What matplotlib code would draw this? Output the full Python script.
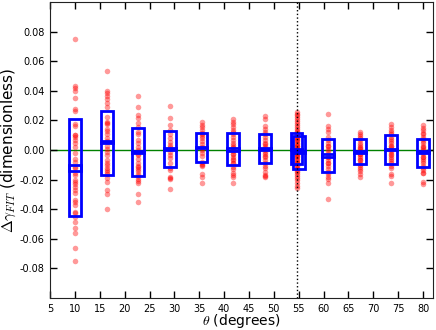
import numpy as np
import matplotlib
matplotlib.use('Agg')
import matplotlib.pyplot as plt
from matplotlib.patches import Rectangle
from matplotlib.ticker import FormatStrFormatter

plt.rcParams['mathtext.fontset'] = 'cm'

# scatter data, one list per angle
angles = [10, 16.36, 22.73, 29.09, 35.45, 41.82, 48.18, 54.6, 60.91, 67.27, 73.64, 80]
g1 = [0.0753, 0.0433, 0.0417, 0.0401, 0.035, 0.0277, 0.0264, 0.0176, 0.0162, 0.0101, 0.009, 0.0068, 0.0023,
      -0.0023, -0.0063, -0.0079, -0.0113, -0.0158, -0.0169, -0.0214, -0.023, -0.0248, -0.027, -0.0293,
      -0.0338, -0.0349, -0.0372, -0.0417, -0.0428, -0.0451, -0.0485, -0.053, -0.0563, -0.0665, -0.0748,
      0.0102, 0.0045, -0.0125, -0.0205]
g2 = [0.0532, 0.0401, 0.0383, 0.0365, 0.0343, 0.032, 0.0293, 0.0192, 0.0176, 0.014, 0.0108, 0.0079, 0.0027,
      0.0005, -0.0034, -0.0068, -0.0101, -0.012, -0.015, -0.0165, -0.0192, -0.0214, -0.027, -0.03, -0.0401,
      0.0185, 0.0125, 0.006, -0.0015, -0.0085, -0.0135, 0.0225]
g3 = [0.0365, 0.0291, 0.0237, 0.0219, 0.0185, 0.0158, 0.0124, 0.0105, 0.0068, 0.0045, 0.0, -0.0025, -0.006,
      -0.009, -0.011, -0.013, -0.0145, -0.016, -0.0198, -0.021, -0.0225, -0.0298, -0.0349, 0.002, -0.0035,
      -0.0115, -0.0175]
g4 = [0.0297, 0.0214, 0.0169, 0.0135, 0.0079, 0.0055, 0.0035, 0.0005, -0.0034, -0.0056, -0.009, -0.0124,
      -0.0135, -0.0187, -0.018, -0.0195, -0.0266, 0.0105, 0.002, -0.0015]
g5 = [0.0192, 0.0169, 0.0152, 0.0135, 0.0118, 0.0095, 0.008, 0.006, 0.004, 0.002, 0.0, -0.002, -0.004,
      -0.0079, -0.0101, -0.0108, -0.018, -0.0225, -0.0162, -0.0095, 0.0105, 0.0015]
g6 = [0.0207, 0.019, 0.0175, 0.0155, 0.0135, 0.012, 0.0105, 0.009, 0.007, 0.005, 0.0035, 0.002, 0.0005,
      -0.001, -0.003, -0.005, -0.007, -0.009, -0.0113, -0.013, -0.0153, -0.0169, -0.018, -0.0225, 0.0015,
      -0.0025, -0.006, -0.0085]
g7 = [0.023, 0.021, 0.0162, 0.0145, 0.012, 0.0105, 0.009, 0.007, 0.005, 0.003, 0.0015, 0.0, -0.0015, -0.003,
      -0.005, -0.007, -0.009, -0.0105, -0.012, -0.0147, -0.0169, -0.0176, -0.0185, 0.004, -0.004]
g8 = [0.0259, 0.0245, 0.0235, 0.0221, 0.021, 0.0195, 0.0185, 0.017, 0.0155, 0.014, 0.013, 0.012, 0.011, 0.01,
      0.009, 0.008, 0.007, 0.006, 0.005, 0.004, 0.003, 0.002, 0.001, 0.0, -0.001, -0.002, -0.003, -0.004,
      -0.005, -0.006, -0.007, -0.008, -0.009, -0.010, -0.011, -0.012, -0.013, -0.014, -0.015, -0.016, -0.0175,
      -0.019, -0.0205, -0.022, -0.024, -0.0259, 0.0075, -0.0035, -0.0085, 0.0025]
g9 = [0.0243, 0.016, 0.014, 0.0124, 0.009, 0.007, 0.005, 0.003, 0.001, -0.001, -0.003, -0.005, -0.007,
      -0.009, -0.011, -0.013, -0.0162, -0.0198, -0.0225, -0.0331, -0.015, 0.0025, -0.0045, -0.0085, -0.0185]
g10 = [0.0124, 0.0108, 0.0095, 0.008, 0.0065, 0.005, 0.0035, 0.002, 0.0005, -0.001, -0.0025, -0.004, -0.0055,
       -0.007, -0.0085, -0.01, -0.0113, -0.0128, -0.0145, -0.016, -0.018, 0.0015, -0.003, -0.0065]
g11 = [0.0176, 0.0158, 0.0135, 0.012, 0.0105, 0.009, 0.0075, 0.006, 0.0045, 0.003, 0.0015, 0.0, -0.0015,
       -0.003, -0.0045, -0.006, -0.0075, -0.009, -0.0105, -0.0124, -0.0162, -0.0175, -0.0225, 0.0025, -0.0035]
g12 = [0.0169, 0.0147, 0.0132, 0.0118, 0.0105, 0.009, 0.0075, 0.006, 0.0045, 0.003, 0.0015, 0.0, -0.0015,
       -0.003, -0.0045, -0.006, -0.0075, -0.009, -0.0105, -0.012, -0.0135, -0.0153, -0.0158, -0.0214, -0.023,
       0.002, -0.005]
groups = [g1, g2, g3, g4, g5, g6, g7, g8, g9, g10, g11, g12]

# boxes (spread) and mean bands
box_x = [10, 16.36, 22.73, 29.09, 35.45, 41.82, 48.18, 54.55, 55.0, 60.91, 67.27, 73.64, 80]
box_top = [0.0208, 0.0266, 0.0151, 0.0128, 0.0113, 0.0117, 0.0106, 0.0113, 0.0095, 0.0072, 0.0074, 0.0101, 0.0072]
box_bot = [-0.0444, -0.0169, -0.0174, -0.0113, -0.0079, -0.0101, -0.009, -0.0097, -0.0128, -0.0147, -0.0097,
           -0.0095, -0.0113]
mean_hi = [-0.0101, 0.0061, -0.0007, 0.0011, 0.0023, 0.0011, 0.0011, 0.001, -0.001, -0.0029, -0.0007, 0.0007,
           -0.0007]
mean_lo = [-0.014, 0.0045, -0.0018, 0.0, 0.0011, -0.0005, 0.0, 0.0, -0.002, -0.0045, -0.0018, 0.0, -0.0022]
box_w = 2.4
magic = 54.74

fig = plt.figure(figsize=(4.36, 3.3), dpi=100)
ax = fig.add_axes([0.115, 0.097, 0.878, 0.897])

for a, g in zip(angles, groups):
    ax.plot([a] * len(g), g, 'o', color='r', alpha=0.4, ms=4, mec='none', zorder=2)

for x, t, b, mh, ml in zip(box_x, box_top, box_bot, mean_hi, mean_lo):
    ax.add_patch(Rectangle((x - box_w / 2, b), box_w, t - b, fill=False, ec='b', lw=2, zorder=3))
    ax.add_patch(Rectangle((x - box_w / 2, ml), box_w, mh - ml, fill=False, ec='b', lw=2, zorder=3))

ax.axhline(0, color='g', lw=1, zorder=1)
ax.axvline(magic, color='k', ls=':', lw=1, zorder=4)

ax.set_xlim(5, 82)
ax.set_ylim(-0.1, 0.1)
ax.set_xticks(np.arange(5, 81, 5))
ax.set_yticks(np.arange(-0.08, 0.081, 0.02))
ax.yaxis.set_major_formatter(FormatStrFormatter('%.2f'))
ax.tick_params(direction='in', length=5, width=1, labelsize=7, top=True, right=True, pad=4)
for s in ax.spines.values():
    s.set_color('#222222')

ax.set_xlabel(r'$\theta$ (degrees)', fontsize=10, labelpad=-1)
ax.set_ylabel(r'$\Delta\gamma_{FIT}$ (dimensionless)', fontsize=11, labelpad=1)

fig.savefig('out.png', dpi=100)
